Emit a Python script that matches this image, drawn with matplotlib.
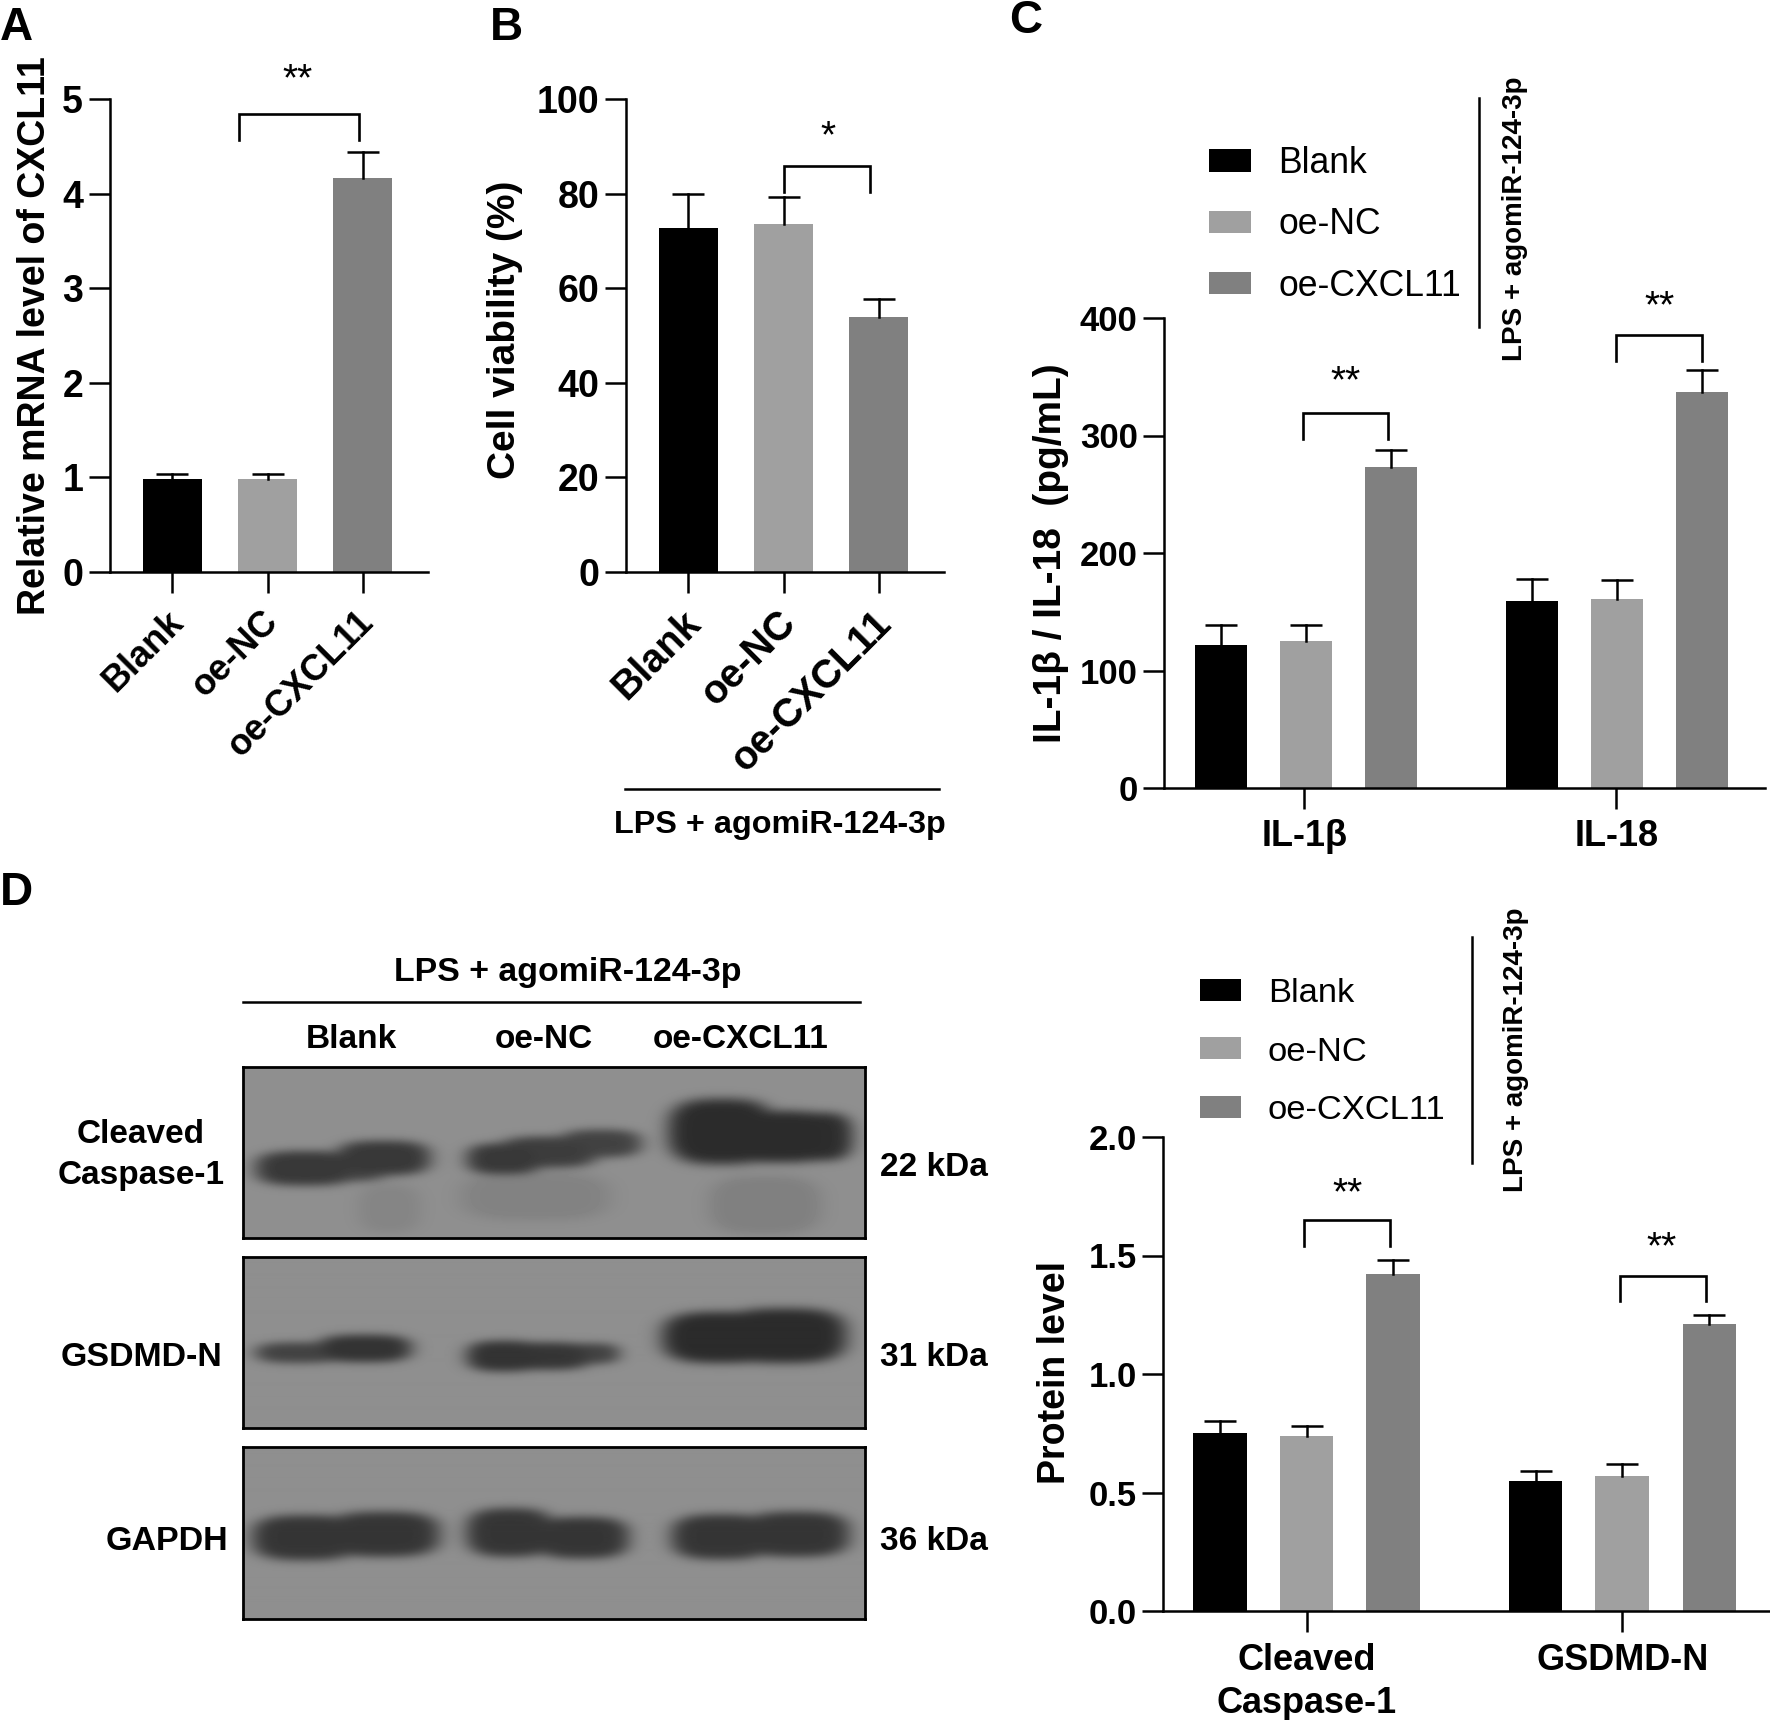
import numpy as np
import matplotlib
matplotlib.use("Agg")
import matplotlib.pyplot as plt
from matplotlib.transforms import ScaledTranslation

plt.rcParams['font.family'] = ['Liberation Sans', 'DejaVu Sans']

W, H = 1770, 1720
BLACK, LIGHT, DARK = '#000000', '#a0a0a0', '#808080'
colors = [BLACK, LIGHT, DARK]

groups = ['Blank', 'oe-NC', 'oe-CXCL11']
treatment = 'LPS + agomiR-124-3p'

# panel A
mrna_vals = [0.98, 0.98, 4.16]
mrna_tops = [1.04, 1.04, 4.44]
mrna_ticks = [0, 1, 2, 3, 4, 5]
# panel B
viability_vals = [72.7, 73.5, 54.0]
viability_tops = [80.0, 79.3, 57.8]
viability_ticks = [0, 20, 40, 60, 80, 100]
# panel C
cytokines = ['IL-1β', 'IL-18']
cytokine_vals = [122, 125, 273, 159, 161, 337]
cytokine_tops = [139, 139, 288, 178, 177, 356]
cytokine_ticks = [0, 100, 200, 300, 400]
# panel D chart
proteins = ['Cleaved\nCaspase-1', 'GSDMD-N']
protein_vals = [0.75, 0.74, 1.42, 0.55, 0.57, 1.21]
protein_tops = [0.80, 0.78, 1.48, 0.59, 0.62, 1.25]
protein_ticks = [0.0, 0.5, 1.0, 1.5, 2.0]
# blot lobes: centre x, centre y, radius x, radius y, darkness (panel fractions)
blot_caspase = [
    (0.10, 0.595, 0.08, 0.10, 0.34), (0.165, 0.59, 0.07, 0.08, 0.30), (0.225, 0.535, 0.075, 0.10, 0.34),
    (0.42, 0.54, 0.06, 0.09, 0.34), (0.49, 0.50, 0.08, 0.09, 0.32), (0.575, 0.45, 0.065, 0.08, 0.30),
    (0.77, 0.38, 0.085, 0.19, 0.39), (0.86, 0.41, 0.10, 0.15, 0.39), (0.93, 0.41, 0.05, 0.14, 0.38),
    (0.47, 0.76, 0.12, 0.14, 0.05), (0.235, 0.83, 0.05, 0.14, 0.04), (0.84, 0.81, 0.09, 0.17, 0.06),
]
blot_gsdmd = [
    (0.09, 0.56, 0.07, 0.06, 0.30), (0.195, 0.535, 0.075, 0.08, 0.36),
    (0.42, 0.58, 0.06, 0.09, 0.36), (0.49, 0.58, 0.07, 0.08, 0.35), (0.56, 0.565, 0.045, 0.06, 0.30),
    (0.77, 0.47, 0.095, 0.15, 0.39), (0.87, 0.46, 0.10, 0.16, 0.39),
]
blot_gapdh = [
    (0.10, 0.53, 0.085, 0.13, 0.35), (0.225, 0.51, 0.09, 0.13, 0.35),
    (0.43, 0.50, 0.07, 0.14, 0.35), (0.545, 0.53, 0.075, 0.12, 0.35),
    (0.77, 0.525, 0.08, 0.13, 0.35), (0.89, 0.51, 0.085, 0.13, 0.35),
]
blot_names = ['Cleaved\nCaspase-1', 'GSDMD-N', 'GAPDH']
blot_kda = ['22 kDa', '31 kDa', '36 kDa']

fig = plt.figure(figsize=(W / 100, H / 100), dpi=100, facecolor='white')


def fx(px):
    return px / W


def fy(px):
    return 1 - px / H


def add_ax(left, top, right, bottom):
    return fig.add_axes([fx(left), fy(bottom), (right - left) / W, (bottom - top) / H])


def label(px, py, s, **kw):
    kw.setdefault('ha', 'center')
    kw.setdefault('va', 'center')
    kw.setdefault('fontweight', 'bold')
    return fig.text(fx(px), fy(py), s, **kw)


def rule(x0, y0, x1, y1, lw=1.8):
    fig.add_artist(plt.Line2D([fx(x0), fx(x1)], [fy(y0), fy(y1)], color='black', lw=lw))


def bars(ax, x, vals, tops, width, ymax, yticks, ytick_labels, tick_size):
    for i, (xi, v, t) in enumerate(zip(x, vals, tops)):
        ax.bar(xi, v, width=width, color=colors[i % 3], label=groups[i] if i < 3 else None)
        # upper whisker only, no cap on the bar itself
        ax.plot([xi, xi], [v, t], color='black', lw=1.8)
        ax.plot([xi], [t], marker='_', ms=23, mew=1.8, color='black', clip_on=False)
    ax.set_ylim(0, ymax)
    ax.set_yticks(yticks)
    ax.set_yticklabels(ytick_labels, fontsize=tick_size, fontweight='bold')
    ax.spines[['top', 'right']].set_visible(False)
    ax.spines[['left', 'bottom']].set_linewidth(1.8)
    ax.tick_params(axis='both', length=15, width=1.8, pad=4)
    ax.patch.set_alpha(0)


def slanted_labels(ax, size):
    ax.set_xlim(-0.663, 2.689)
    ax.set_xticks([0, 1, 2])
    ax.set_xticklabels(groups, rotation=45, ha='right', rotation_mode='anchor',
                       fontsize=size, fontweight='bold')
    ax.tick_params(axis='x', pad=8)
    shift = ScaledTranslation(-0.068, 0, fig.dpi_scale_trans)
    for tl in ax.get_xticklabels():
        tl.set_transform(tl.get_transform() + shift)


def bracket(ax, x0, x1, top, low, star_x, star_y, stars='**'):
    ax.plot([x0, x0, x1, x1], [low, top, top, low], color='black', lw=1.9,
            clip_on=False, solid_joinstyle='miter')
    ax.text(star_x, star_y, stars, ha='center', va='center', fontsize=28, clip_on=False)


# A
ax = add_ax(109.5, 99, 428, 572)
bars(ax, [0, 1, 2], mrna_vals, mrna_tops, 0.62, 5, mrna_ticks, mrna_ticks, 27)
slanted_labels(ax, 26)
bracket(ax, 0.7, 1.965, 4.845, 4.57, 1.32, 5.2)
label(35, 336, 'Relative mRNA level of CXCL11', rotation=90, fontsize=27)

# B
ax = add_ax(625.5, 99, 944, 572)
bars(ax, [0, 1, 2], viability_vals, viability_tops, 0.62, 100, viability_ticks, viability_ticks, 27)
slanted_labels(ax, 28.5)
bracket(ax, 1.0, 1.91, 85.9, 80.4, 1.47, 92, '*')
label(505, 330, 'Cell viability (%)', rotation=90, fontsize=28)
rule(625, 789, 939, 789)
label(780, 825, treatment, fontsize=23.3)

# C
ax = add_ax(1164, 318, 1765, 788)
xs = [0, 1, 2, 3.66, 4.66, 5.66]
bars(ax, xs, cytokine_vals, cytokine_tops, 0.62, 400, cytokine_ticks, cytokine_ticks, 25)
ax.set_xlim(-0.67, 6.4)
ax.set_xticks([0.98, 4.65])
ax.set_xticklabels(cytokines, fontsize=26, fontweight='bold')
ax.tick_params(axis='x', pad=7)
bracket(ax, 0.965, 1.97, 319, 297, 1.46, 345)
bracket(ax, 4.65, 5.66, 385.6, 363, 5.16, 409)
label(1051, 553, 'IL-1β / IL-18  (pg/mL)', rotation=90, fontsize=28)
ax.legend(loc='upper left', bbox_to_anchor=(fx(1209), fy(146)), bbox_transform=fig.transFigure,
          frameon=False, fontsize=25.6, borderpad=0, borderaxespad=0, handlelength=1.18,
          handleheight=0.58, handletextpad=0.77, labelspacing=0.74)
rule(1479, 98, 1479, 327)
label(1515, 219, treatment, rotation=90, fontsize=20)

# D chart
ax = add_ax(1163, 1137, 1770, 1611)
xs = [0, 1, 2, 3.65, 4.65, 5.66]
bars(ax, xs, protein_vals, protein_tops, 0.62, 2.0, protein_ticks,
     ['%.1f' % t for t in protein_ticks], 25)
ax.set_xlim(-0.66, 6.36)
ax.set_xticks([1.0, 4.65])
ax.set_xticklabels(proteins, fontsize=26, fontweight='bold', linespacing=1.3)
ax.tick_params(axis='x', pad=8)
bracket(ax, 0.97, 1.97, 1.648, 1.538, 1.47, 1.76)
bracket(ax, 4.62, 5.62, 1.414, 1.31, 5.11, 1.53)
label(1055, 1373, 'Protein level', rotation=90, fontsize=27)
ax.legend(loc='upper left', bbox_to_anchor=(fx(1200), fy(978)), bbox_transform=fig.transFigure,
          frameon=False, fontsize=24.8, borderpad=0, borderaxespad=0, handlelength=1.2,
          handleheight=0.6, handletextpad=0.77, labelspacing=0.8)
rule(1472, 937, 1472, 1163)
label(1516, 1050, treatment, rotation=90, fontsize=20)


def soften(img, sigma, axis):
    k = np.arange(-3 * int(sigma), 3 * int(sigma) + 1)
    kernel = np.exp(-0.5 * (k / sigma) ** 2)
    kernel /= kernel.sum()
    pad = len(k) // 2

    def run(v):
        return np.convolve(np.pad(v, pad, mode='edge'), kernel, mode='valid')

    return np.apply_along_axis(run, axis, img)


# D blots
def blot_image(lobes, w=622, h=172):
    xx, yy = np.meshgrid(np.linspace(0, 1, w), np.linspace(0, 1, h))
    dark = np.zeros((h, w))
    for cx, cy, rx, ry, d in lobes:
        r = (np.abs((xx - cx) / rx) ** 3 + np.abs((yy - cy) / ry) ** 3) ** (1 / 3)
        t = np.clip((1.2 - r) / 0.4, 0, 1)
        dark = np.maximum(dark, d * t * t * (3 - 2 * t))
    dark = soften(soften(dark, 8, 1), 4, 0)
    return 0.56 - dark


blot_boxes = [(1067, 1238), (1257, 1428), (1447, 1619)]
for (top, bottom), lobes in zip(blot_boxes, [blot_caspase, blot_gsdmd, blot_gapdh]):
    ax = add_ax(243, top, 865, bottom)
    ax.imshow(blot_image(lobes), cmap='gray', vmin=0, vmax=1, aspect='auto', interpolation='bilinear')
    ax.set_xticks([])
    ax.set_yticks([])
    for s in ax.spines.values():
        s.set_linewidth(2)

label(568, 972, treatment, fontsize=24.4)
rule(243, 1001.5, 860, 1001.5)
for px, name in zip([351, 544, 741], groups):
    label(px, 1039.5, name, fontsize=24)
label(141, 1155, blot_names[0], fontsize=24, linespacing=1.45)
label(141, 1357, blot_names[1], fontsize=24.4)
label(167, 1542, blot_names[2], fontsize=24.5)
for py, kda in zip([1167, 1357, 1542], blot_kda):
    label(879.5, py, kda, ha='left', fontsize=24)

for px, py, s in [(16, 28, 'A'), (506, 28, 'B'), (1026, 21, 'C'), (16, 893, 'D')]:
    label(px, py, s, fontsize=33)

fig.savefig('out.png', dpi=100)
